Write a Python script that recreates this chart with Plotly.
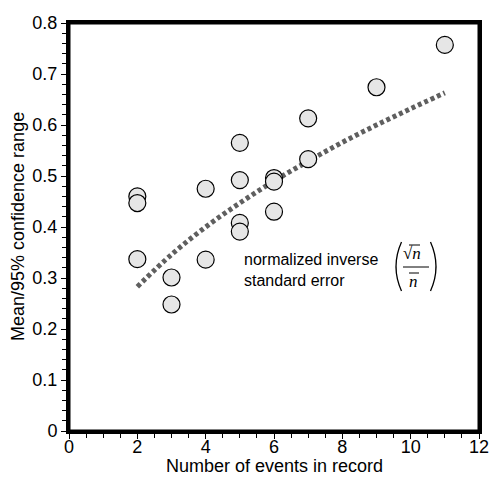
import plotly.graph_objects as go

# Observed data points
events = [2, 2, 2, 3, 3, 4, 4, 5, 5, 5, 5, 6, 6, 6, 7, 7, 9, 11]
ratio = [0.460, 0.447, 0.337, 0.301, 0.248, 0.475, 0.336, 0.565, 0.492, 0.408, 0.391,
         0.496, 0.489, 0.430, 0.613, 0.533, 0.674, 0.757]

# Normalized inverse standard error curve
curve_x = [2, 3, 4, 5, 6, 7, 8, 9, 10, 11]
curve_y = [0.283, 0.346, 0.400, 0.447, 0.490, 0.529, 0.566, 0.600, 0.632, 0.663]

x_ticks = [0, 2, 4, 6, 8, 10, 12]
y_ticks = [0, 0.1, 0.2, 0.3, 0.4, 0.5, 0.6, 0.7, 0.8]

FONT = "Liberation Sans, Arial, Helvetica, sans-serif"
SERIF = "Liberation Serif, Times New Roman, serif"

L, R, T, B = 69, 479, 23, 431

fig = go.Figure()
fig.add_trace(go.Scatter(
    x=curve_x, y=curve_y, mode="lines",
    line=dict(color="#5f5f5f", width=5, dash="4px,3px", shape="spline"),
    hoverinfo="skip", showlegend=False))
fig.add_trace(go.Scatter(
    x=events, y=ratio, mode="markers",
    marker=dict(size=17, color="#e6e6e6", line=dict(color="black", width=1.2)),
    showlegend=False))

axis_common = dict(
    showline=True, linecolor="black", linewidth=3, mirror=True,
    ticks="outside", ticklen=5, tickwidth=1, tickcolor="black",
    showgrid=False, zeroline=False, automargin=False,
    tickfont=dict(family=FONT, size=18, color="black"),
)
fig.update_xaxes(range=[0, 12], tickvals=x_ticks, ticktext=[str(v) for v in x_ticks],
                 ticklabelstandoff=-8,
                 minor=dict(ticks="outside", dtick=0.5, ticklen=4, tickcolor="black", tickwidth=1),
                 **axis_common)
fig.update_yaxes(range=[0, 0.8], tickvals=y_ticks, ticktext=["0", "0.1", "0.2", "0.3", "0.4", "0.5", "0.6", "0.7", "0.8"],
                 minor=dict(ticks="outside", dtick=0.02, ticklen=4, tickcolor="black", tickwidth=1),
                 **axis_common)

def px(xp):
    return (xp - L) / (R - L)
def py(yp):
    return (B - yp) / (B - T)

# axis titles
fig.add_annotation(xref="paper", yref="paper", x=px(274), y=py(466), xanchor="center", yanchor="middle",
                   showarrow=False, text="Number of events in record",
                   font=dict(family=FONT, size=18, color="black"))
fig.add_annotation(xref="paper", yref="paper", x=px(18), y=py(227), xanchor="center", yanchor="middle",
                   showarrow=False, text="Mean/95% confidence range", textangle=-90,
                   font=dict(family=FONT, size=18, color="black"))

# frame
fig.add_shape(type="rect", xref="paper", yref="paper", x0=0, x1=1, y0=0, y1=1,
              line=dict(color="black", width=3), layer="above")

# Annotation text
fig.add_annotation(xref="paper", yref="paper", x=px(242), y=py(270),
                   xanchor="left", yanchor="middle", align="left", showarrow=False,
                   text="normalized inverse<br>standard error",
                   font=dict(family=FONT, size=16, color="black"))

# Formula: parentheses as paths
def paren(x0, xc, y0, y1):
    return "M {} {} Q {} {} {} {}".format(px(x0), py(y0), px(xc), py((y0 + y1) / 2), px(x0), py(y1))

fig.add_shape(type="path", xref="paper", yref="paper", path=paren(401.5, 390.5, 242, 291),
              line=dict(color="black", width=1.3))
fig.add_shape(type="path", xref="paper", yref="paper", path=paren(430.5, 441.5, 242, 291),
              line=dict(color="black", width=1.3))
fig.add_annotation(xref="paper", yref="paper", x=px(412), y=py(253), xanchor="center", yanchor="middle",
                   showarrow=False, text="√<i>n</i>", font=dict(family=SERIF, size=17, color="black"))
fig.add_annotation(xref="paper", yref="paper", x=px(413), y=py(281), xanchor="center", yanchor="middle",
                   showarrow=False, text="<i>n</i>", font=dict(family=SERIF, size=17, color="black"))
fig.add_shape(type="line", xref="paper", yref="paper", x0=px(403), x1=px(429), y0=py(267), y1=py(267),
              line=dict(color="black", width=1))
fig.add_shape(type="line", xref="paper", yref="paper", x0=px(409), x1=px(419), y0=py(273), y1=py(273),
              line=dict(color="black", width=1))
fig.add_shape(type="line", xref="paper", yref="paper", x0=px(409), x1=px(420), y0=py(245), y1=py(245),
              line=dict(color="black", width=1))

fig.update_layout(
    width=490, height=483,
    margin=dict(l=L, r=490 - R, t=T, b=483 - B),
    paper_bgcolor="white", plot_bgcolor="white",
    font=dict(family=FONT, color="black"),
)
fig.write_html("out.html")
